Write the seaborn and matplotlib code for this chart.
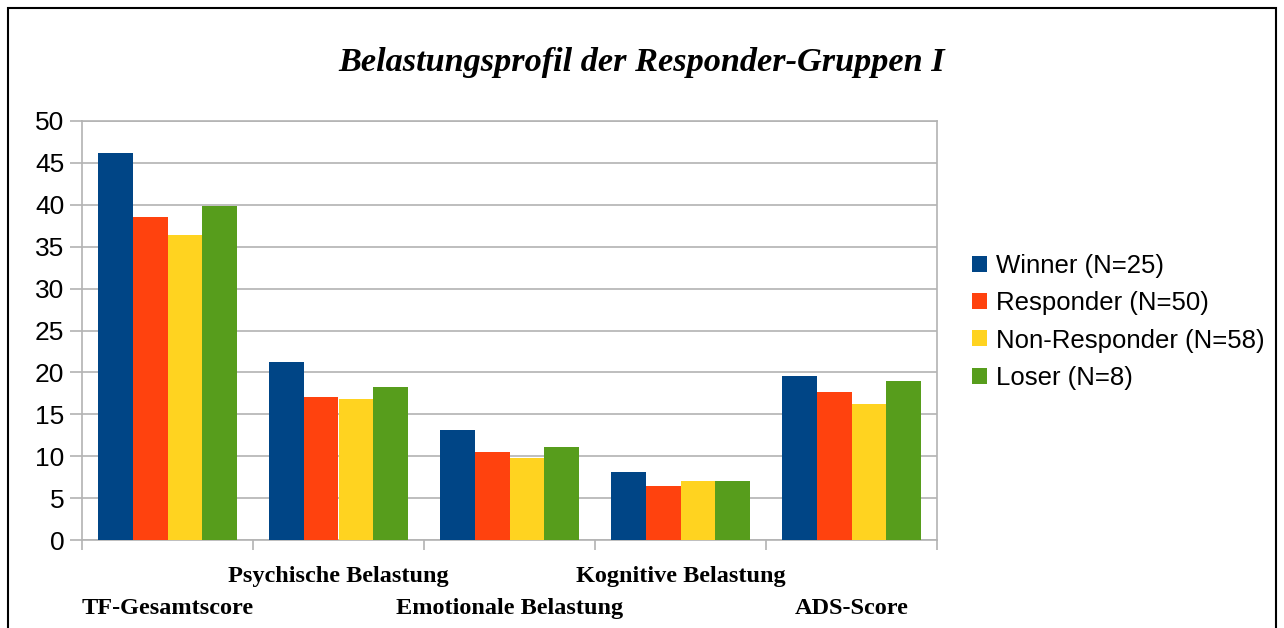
import matplotlib
matplotlib.use("Agg")
import matplotlib.pyplot as plt
import pandas as pd
import seaborn as sns
from matplotlib.patches import Rectangle

# --- data ---
categories = ["TF-Gesamtscore", "Psychische Belastung", "Emotionale Belastung",
              "Kognitive Belastung", "ADS-Score"]
groups = ["Winner (N=25)", "Responder (N=50)", "Non-Responder (N=58)", "Loser (N=8)"]
winner = [46.2, 21.3, 13.1, 8.1, 19.6]
responder = [38.6, 17.1, 10.5, 6.5, 17.7]
non_responder = [36.4, 16.8, 9.8, 7.0, 16.2]
loser = [39.8, 18.3, 11.1, 7.0, 19.0]
colors = ["#004586", "#ff420e", "#ffd320", "#579d1c"]
title = "Belastungsprofil der Responder-Gruppen I"

series = [winner, responder, non_responder, loser]
df = pd.DataFrame([
    {"Kategorie": c, "Gruppe": g, "Wert": v}
    for g, vals in zip(groups, series)
    for c, v in zip(categories, vals)
])

sns.set_style("white")
plt.rcParams["font.family"] = ["Liberation Sans", "DejaVu Sans"]
plt.rcParams["text.color"] = "black"
plt.rcParams["xtick.labelcolor"] = "black"
plt.rcParams["ytick.labelcolor"] = "black"
grid_col = "#b3b3b3"

fig = plt.figure(figsize=(12.84, 6.28), dpi=100)
ax = fig.add_axes([82 / 1284, 88 / 628, 855 / 1284, 419 / 628])

sns.barplot(data=df, x="Kategorie", y="Wert", hue="Gruppe", order=categories,
            hue_order=groups, palette=colors, width=0.81, gap=0,
            saturation=1, edgecolor="none", linewidth=0, ax=ax, zorder=3)

ax.set_xlim(-0.5, len(categories) - 0.5)
ax.set_ylim(0, 50)
ax.set_yticks(range(0, 51, 5))
ax.yaxis.grid(True, color=grid_col, linewidth=1.2, zorder=0)
ax.set_axisbelow(True)
ax.tick_params(axis="y", length=8.6, width=1.2, color=grid_col, pad=4,
               labelsize=19, left=True, labelcolor="black")
for s in ax.spines.values():
    s.set_color(grid_col)
    s.set_linewidth(1.2)
ax.set_xlabel("")
ax.set_ylabel("")

# category boundaries as minor ticks, staggered labels on major ticks
ax.set_xticks([i - 0.5 for i in range(len(categories) + 1)], minor=True)
ax.tick_params(axis="x", which="minor", length=7, width=1.2, color=grid_col,
               bottom=True)
ax.tick_params(axis="x", which="major", length=0, labelcolor="black")
ax.set_xticks(range(len(categories)))
ax.set_xticklabels(categories, fontfamily="Liberation Serif", fontweight="bold",
                   fontsize=17.5)
for i, t in enumerate(ax.xaxis.get_major_ticks()):
    t.set_pad(41.5 if i % 2 == 0 else 19)

leg = ax.legend(loc="center left", bbox_to_anchor=(959 / 1284, 306 / 628),
                bbox_transform=fig.transFigure, frameon=False, fontsize=18.5,
                handlelength=0.58, handleheight=0.58, handletextpad=0.35,
                labelspacing=0.51, borderpad=0)

fig.text(0.5, 565 / 628, title, ha="center", va="center",
         fontfamily="Liberation Serif", fontweight="bold", fontstyle="italic",
         fontsize=24.7)

fig.patches.append(Rectangle((8 / 1284, -0.05), 1268 / 1284, 0.05 + 620 / 628,
                             transform=fig.transFigure, fill=False,
                             edgecolor="black", linewidth=1.5))

fig.savefig("out.png", dpi=100, facecolor="white")
